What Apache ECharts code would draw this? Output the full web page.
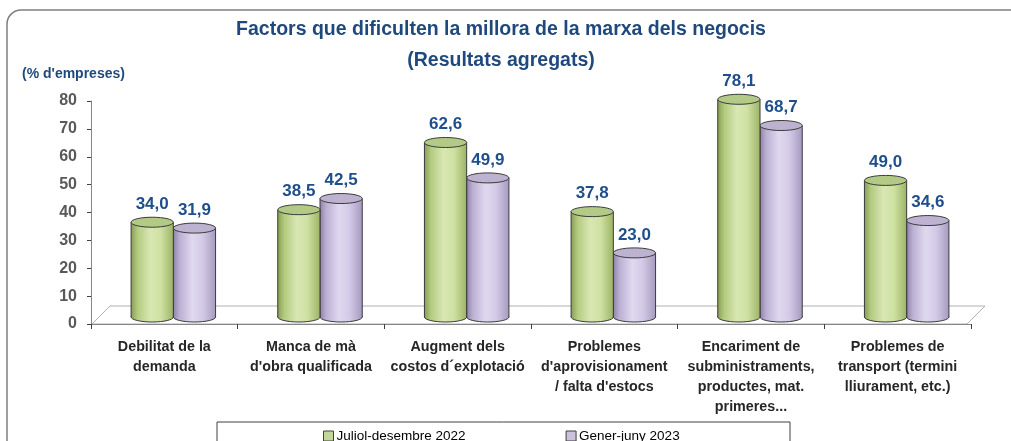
<!DOCTYPE html>
<html>
<head>
<meta charset="utf-8">
<script src="https://cdn.jsdelivr.net/npm/echarts@6/dist/echarts.min.js"></script>
<style>
  html, body { margin: 0; padding: 0; background: #fff; }
  #main { width: 1011px; height: 441px; }
</style>
</head>
<body>
<div id="main"></div>
<script>
var categories = [
  "Debilitat de la\ndemanda",
  "Manca de mà\nd'obra qualificada",
  "Augment dels\ncostos d´explotació",
  "Problemes\nd'aprovisionament\n/ falta d'estocs",
  "Encariment de\nsubministraments,\nproductes, mat.\nprimeres...",
  "Problemes de\ntransport (termini\nlliurament, etc.)"
];
var seriesNames = ["Juliol-desembre 2022", "Gener-juny 2023"];
var julDes2022 = [34.0, 38.5, 62.6, 37.8, 78.1, 49.0];
var generJuny2023 = [31.9, 42.5, 49.9, 23.0, 68.7, 34.6];

var chart = echarts.init(document.getElementById('main'));

// colours of the two cylinders
var palette = [
  { legend: '#c3d69b', top: '#b3ca86',
    stops: ['#879f52', '#b3ca7e', '#d8e7b3', '#cfe1a2', '#9cb466'] },
  { legend: '#ccc1da', top: '#bdb2d0',
    stops: ['#8f83a8', '#bcb0d3', '#e0d8ef', '#d3c9e6', '#a69bbf'] }
];

function fmt(v) {
  return v.toFixed(1).replace('.', ',');
}

function cylinder(idx) {
  return function (params, api) {
    var i = api.value(0);
    var v = api.value(1);
    var base = api.coord([i, 0]);
    var topP = api.coord([i, v]);
    var band = api.size([1, 0])[0];
    var w = band * 0.288;
    var dx = 9, dy = -7, ry = 5;
    var left = base[0] + dx + (idx === 0 ? -w : 0);
    var right = left + w;
    var cx = left + w / 2;
    var yb = base[1] + dy;
    var yt = topP[1] + dy;
    var c = palette[idx];
    var grad = new echarts.graphic.LinearGradient(0, 0, 1, 0, [
      { offset: 0, color: c.stops[0] },
      { offset: 0.15, color: c.stops[1] },
      { offset: 0.45, color: c.stops[2] },
      { offset: 0.7, color: c.stops[3] },
      { offset: 1, color: c.stops[4] }
    ]);
    return {
      type: 'group',
      children: [
        { type: 'ellipse', shape: { cx: cx, cy: yb, rx: w / 2, ry: ry },
          style: { fill: grad, stroke: '#3a3a3a', lineWidth: 1 } },
        { type: 'rect', shape: { x: left, y: yt, width: w, height: yb - yt },
          style: { fill: grad } },
        { type: 'line', shape: { x1: left, y1: yt, x2: left, y2: yb },
          style: { stroke: '#3a3a3a', lineWidth: 1 } },
        { type: 'line', shape: { x1: right, y1: yt, x2: right, y2: yb },
          style: { stroke: '#3a3a3a', lineWidth: 1 } },
        { type: 'ellipse', shape: { cx: cx, cy: yt, rx: w / 2, ry: ry },
          style: { fill: c.top, stroke: '#3a3a3a', lineWidth: 1 } },
        { type: 'text', x: cx, y: yt - 18,
          style: { text: fmt(v), fill: '#1f4e8c', font: 'bold 17px "Liberation Sans", Arial',
            align: 'center', verticalAlign: 'middle' } }
      ]
    };
  };
}

var option = {
  animation: false,
  title: {
    text: 'Factors que dificulten la millora de la marxa dels negocis\n(Resultats agregats)',
    left: 496,
    textAlign: 'center',
    top: 9,
    textStyle: {
      fontFamily: '"Liberation Sans", Arial',
      fontWeight: 'bold',
      fontSize: 19.5,
      lineHeight: 31,
      color: '#1f497d'
    }
  },
  legend: {
    data: seriesNames,
    left: 318,
    top: 424,
    itemGap: 100,
    itemWidth: 10,
    itemHeight: 10,
    icon: 'rect',
    itemStyle: { borderColor: '#404040', borderWidth: 1 },
    textStyle: { fontFamily: '"Liberation Sans", Arial', fontSize: 13.5, color: '#000', padding: [0, 0, 0, -2] }
  },
  grid: { left: 91, right: 40, top: 101, bottom: 117 },
  xAxis: {
    type: 'category',
    data: categories,
    axisLine: { lineStyle: { color: '#868686', width: 1 } },
    axisTick: { show: true, length: 5, lineStyle: { color: '#404040' } },
    axisLabel: {
      interval: 0,
      margin: 13,
      lineHeight: 20,
      fontFamily: '"Liberation Sans", Arial',
      fontWeight: 'bold',
      fontSize: 14.3,
      color: '#262626'
    }
  },
  yAxis: {
    type: 'value',
    min: 0,
    max: 80,
    interval: 10,
    splitLine: { show: false },
    axisLine: { show: true, lineStyle: { color: '#868686' } },
    axisTick: { show: true, length: 4, lineStyle: { color: '#404040' } },
    axisLabel: {
      margin: 14,
      fontFamily: '"Liberation Sans", Arial',
      fontWeight: 'bold',
      fontSize: 16,
      color: '#595959'
    }
  },
  graphic: [
    { type: 'rect', z: -10, shape: { x: 7, y: 10, width: 1030, height: 460, r: 14 },
      style: { fill: '#fff', stroke: '#7f7f7f', lineWidth: 1.5 } },
    { type: 'polygon', z: -5, shape: { points: [[92, 324], [967, 324], [985, 306], [110, 306]] },
      style: { fill: '#fff', stroke: '#b0b0b0', lineWidth: 1 } },
    { type: 'text', left: 22, top: 67,
      style: { text: "(% d'empreses)", fill: '#1f497d', font: 'bold 14px "Liberation Sans", Arial' } },
    { type: 'rect', z: -4, shape: { x: 217, y: 422, width: 573, height: 30 },
      style: { fill: '#fff', stroke: '#404040', lineWidth: 1 } }
  ],
  series: [
    {
      name: seriesNames[0],
      type: 'custom',
      renderItem: cylinder(0),
      itemStyle: { color: palette[0].legend },
      encode: { x: 0, y: 1 },
      data: julDes2022.map(function (v, i) { return [i, v]; }),
      z: 3
    },
    {
      name: seriesNames[1],
      type: 'custom',
      renderItem: cylinder(1),
      itemStyle: { color: palette[1].legend },
      encode: { x: 0, y: 1 },
      data: generJuny2023.map(function (v, i) { return [i, v]; }),
      z: 2
    }
  ]
};

chart.setOption(option);
</script>
</body>
</html>
